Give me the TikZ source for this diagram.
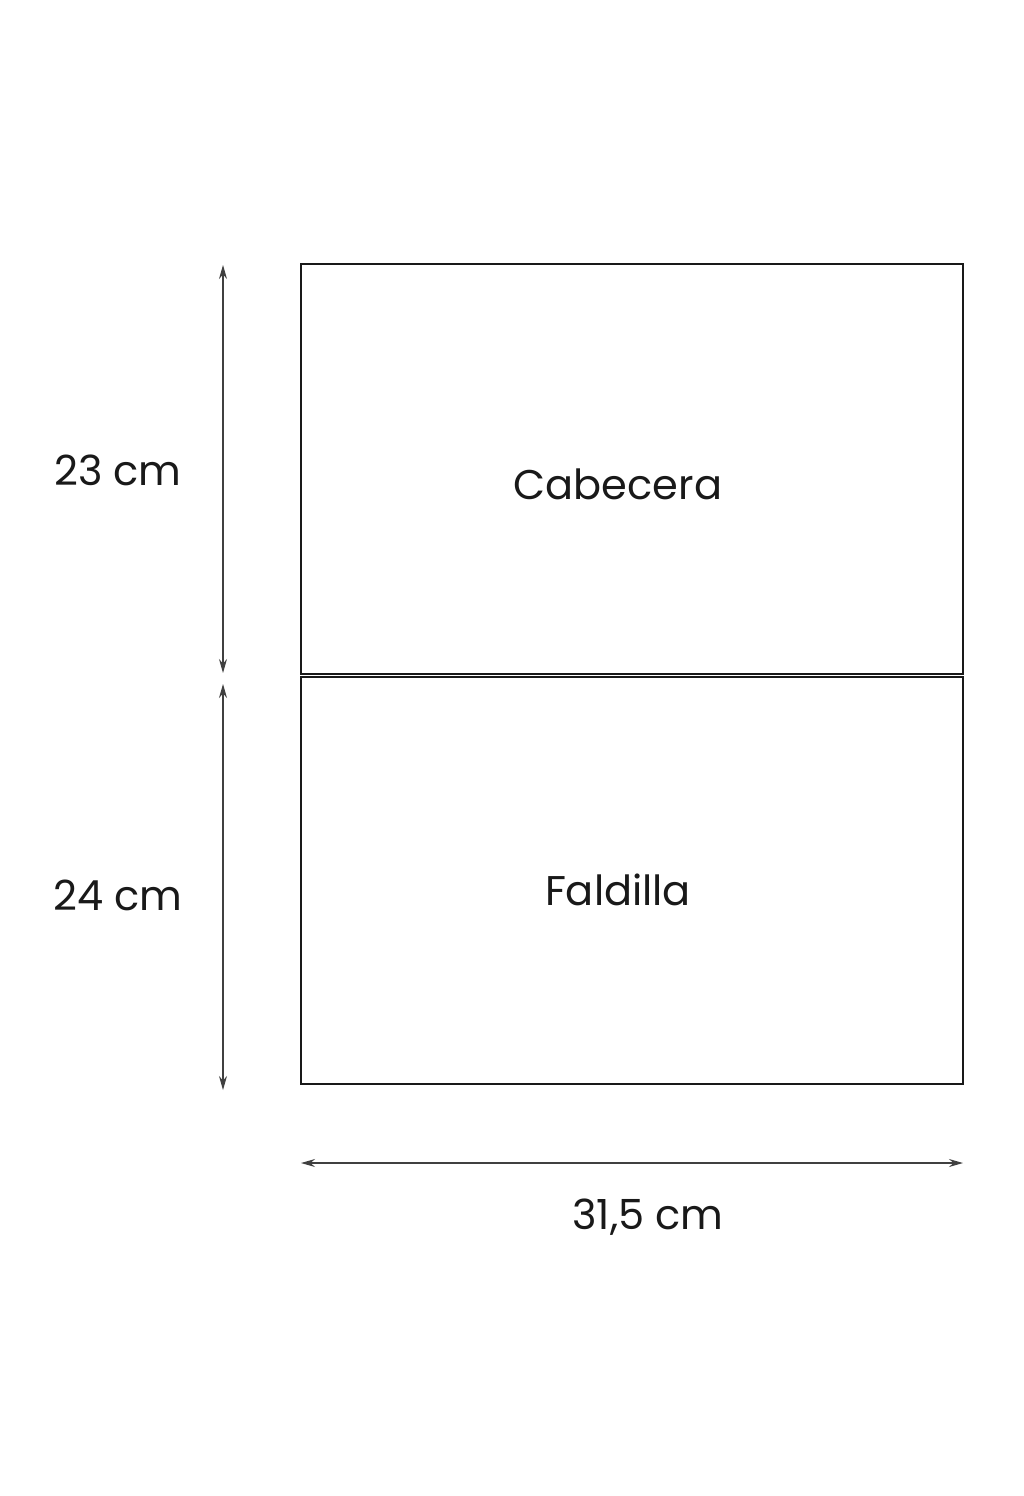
\documentclass[tikz,border=0pt]{standalone}
\usepackage{fontspec}
\setmainfont{Poppins}
\usetikzlibrary{arrows.meta,positioning}

\tikzset{
	panel/.style={draw=black!90,line width=2.2pt,minimum width=662pt,inner sep=0pt},
	dimline/.style={black!75,line width=1.2pt,{Stealth[length=14pt,width=8pt]}-{Stealth[length=14pt,width=8pt]}},
	lbl/.style={font=\fontsize{41.5}{48}\selectfont,text=black!90}
}

\begin{document}
	\begin{tikzpicture}[x=1pt,y=-1pt]
		\useasboundingbox (0,0) rectangle (1024,1496);
		%
		\node[panel,minimum height=410pt] (cab) at (632,469) {};
		\node[panel,minimum height=407pt] (fal) at (632,880.5) {};
		\node[lbl] (tcab) at (618,484) {Cabecera};
		\node[lbl] (tfal) at (618,890) {Faldilla};
		%
		\coordinate (v1) at (223,265);
		\coordinate (v2) at (223,673);
		\coordinate (v3) at (223,684);
		\coordinate (v4) at (223,1090);
		\coordinate (h1) at (301,1163);
		\coordinate (h2) at (963,1163);
		\draw[dimline] (v1) -- (v2);
		\draw[dimline] (v3) -- (v4);
		\draw[dimline] (h1) -- (h2);
		%
		\node[lbl] (d1) at (118,470) {23 cm};
		\node[lbl] (d2) at (118,895) {24 cm};
		\node[lbl] (d3) at (648,1217) {31,5 cm};
	\end{tikzpicture}
\end{document}
